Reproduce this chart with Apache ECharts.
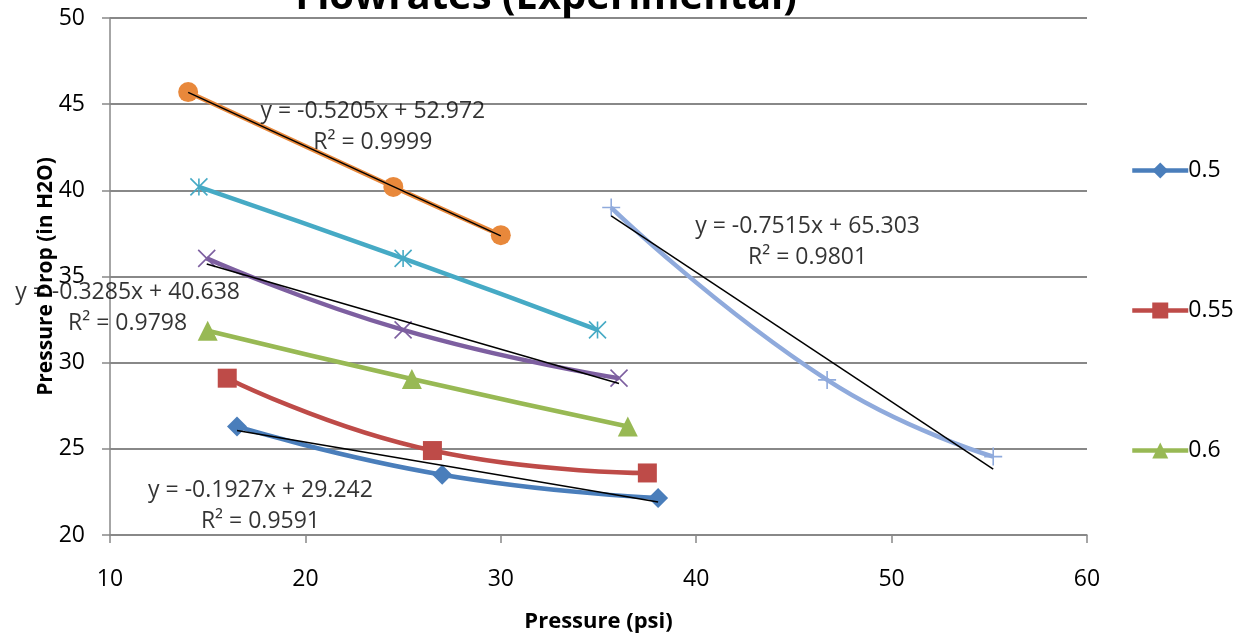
<!DOCTYPE html>
<html><head><meta charset="utf-8">
<script src="https://cdn.jsdelivr.net/npm/echarts@6/dist/echarts.min.js"></script>
<style>html,body{margin:0;padding:0;background:#fff}#c{width:1241px;height:636px}</style>
</head><body><div id="c"></div>
<script>
// ---- data ----
const seriesNames = ['0.5','0.55','0.6','0.65','0.7','0.75','0.8'];
const legendNames = ['0.5','0.55','0.6'];
const s05  = [[16.5,26.3],[27.0,23.5],[38.05,22.15]];
const s055 = [[16.0,29.1],[26.5,24.9],[37.5,23.6]];
const s06  = [[15.0,31.85],[25.45,29.05],[36.5,26.3]];
const s065 = [[14.95,36.05],[25.0,31.9],[36.05,29.1]];
const s07  = [[14.55,40.2],[25.0,36.05],[34.95,31.9]];
const s075 = [[14.0,45.7],[24.5,40.2],[30.0,37.4]];
const s08  = [[35.65,39.0],[46.7,29.0],[55.2,24.55]];
const seriesData = [s05,s055,s06,s065,s07,s075,s08];
// trendlines (linear fits shown in the chart)
const trendSeriesIdx = [0,3,5,6];
const trendSlope = [-0.1927,-0.3285,-0.5205,-0.7515];
const trendIntercept = [29.242,40.638,52.972,65.303];
const trendR2 = ['0.9591','0.9798','0.9999','0.9801'];
const trendLabelPos = [[17.7,21.7],[10.9,33.15],[23.45,43.65],[45.7,37.0]];
const titleText = 'Flowrates (Experimental)';
const xName = 'Pressure (psi)';
const yName = 'Pressure Drop (in H2O)';

// ---- styles ----
const FONT = 'Open Sans';
const colors = ['#4A7EBB','#BE4B48','#98B954','#7D5FA0','#46AAC5','#E8883B','#8FAADC'];
const symX = 'path://M0,0L10,10M10,0L0,10';
const symAst = 'path://M0,0L10,10M10,0L0,10M5,0L5,10';
const symPlus = 'path://M5,0L5,10M0,5L10,5';
const symbols = ['diamond','rect','triangle',symX,symAst,'circle',symPlus];
const symSizes = [20,19,20,17,17,20,18];

const series = seriesData.map((d,i)=>({
  name: seriesNames[i], type:'line', data:d, smooth:0.5,
  symbol: symbols[i], symbolSize: symSizes[i], showSymbol:true,
  lineStyle:{color:colors[i], width:4.5},
  itemStyle:{color: symbols[i].startsWith('path')?'rgba(0,0,0,0)':colors[i], borderColor:colors[i], borderWidth: symbols[i].startsWith('path')?1.6:0},
  z:2, animation:false
}));
trendSeriesIdx.forEach((si,k)=>{
  const xs = seriesData[si].map(p=>p[0]);
  const x0 = Math.min(...xs), x1 = Math.max(...xs);
  series.push({
    name:'trend'+k, type:'line', symbol:'none', smooth:false,
    data:[[x0, trendSlope[k]*x0+trendIntercept[k]],[x1, trendSlope[k]*x1+trendIntercept[k]]],
    lineStyle:{color:'#000', width:1.5}, z:3, animation:false
  });
});
series.push({
  name:'labels', type:'scatter', symbolSize:0, z:4, animation:false, silent:true,
  data: trendLabelPos.map((p,k)=>({value:p})),
  label:{show:true, position:'inside', fontFamily:FONT, fontSize:23, color:'#000', align:'center', lineHeight:31,
    formatter:(prm)=>{const k=prm.dataIndex; const s=trendSlope[k]; return 'y = '+s.toFixed(4)+'x + '+trendIntercept[k].toFixed(3)+'\nR² = '+trendR2[k];}}
});

const chart = echarts.init(document.getElementById('c'),null,{renderer:'canvas'});
chart.setOption({
  animation:false,
  title:{text:titleText, left:541, textAlign:'center', top:-27,
    textStyle:{fontFamily:FONT, fontWeight:'bold', fontSize:40, color:'#000'}},
  legend:{data:legendNames, orient:'vertical', left:1125, top:154, itemGap:117,
    itemWidth:56, itemHeight:20,
    lineStyle:{width:4.5},
    textStyle:{fontFamily:FONT, fontSize:23, color:'#000', padding:[0,0,0,-5]}},
  grid:{left:110, right:154, top:18, bottom:101, outerBoundsMode:'none', containLabel:false},
  xAxis:{type:'value', min:10, max:60, interval:10, name:xName, nameLocation:'middle', nameGap:76, nameMoveOverlap:false,
    nameTextStyle:{fontFamily:FONT, fontWeight:'bold', fontSize:22, color:'#000'},
    axisLine:{lineStyle:{color:'#888', width:1.5}}, axisTick:{show:true, length:8, lineStyle:{color:'#888', width:1.5}},
    axisLabel:{fontFamily:FONT, fontSize:23, color:'#000', margin:33}, splitLine:{show:false}},
  yAxis:{type:'value', min:20, max:50, interval:5, name:yName, nameLocation:'middle', nameGap:53, nameRotate:90, nameMoveOverlap:false,
    nameTextStyle:{fontFamily:FONT, fontWeight:'bold', fontSize:21, color:'#000'},
    axisLine:{show:true, lineStyle:{color:'#888', width:1.5}}, axisTick:{show:true, length:8, lineStyle:{color:'#888', width:1.5}},
    axisLabel:{fontFamily:FONT, fontSize:23, color:'#000', margin:25},
    splitLine:{show:true, lineStyle:{color:'#888', width:1.8}}},
  series: series
});
</script></body></html>
